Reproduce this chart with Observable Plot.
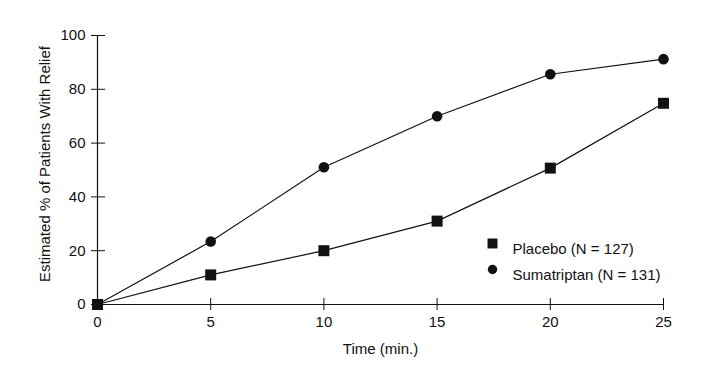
<!DOCTYPE html>
<html>
<head>
<meta charset="utf-8">
<script src="https://cdn.jsdelivr.net/npm/d3@7"></script>
<script src="https://cdn.jsdelivr.net/npm/@observablehq/plot@0.6"></script>
<style>
  html, body { margin: 0; padding: 0; background: #fff; }
</style>
</head>
<body>
<div id="chart"></div>
<script>
// ---- data ----
const times = [0, 5, 10, 15, 20, 25];
const placebo = [0, 11, 20, 31, 50.7, 74.8];
const sumatriptan = [0, 23.4, 51, 70, 85.6, 91.2];
const seriesNames = ["Placebo (N = 127)", "Sumatriptan (N = 131)"];
const xTicks = [0, 5, 10, 15, 20, 25];
const yTicks = [0, 20, 40, 60, 80, 100];
const xLabel = "Time (min.)";
const yLabel = "Estimated % of Patients With Relief";

const placeboData = times.map((t, i) => ({time: t, value: placebo[i]}));
const sumaData = times.map((t, i) => ({time: t, value: sumatriptan[i]}));

const ink = "#111";
const fs = 15;

const chart = Plot.plot({
  width: 727,
  height: 375,
  marginLeft: 97,
  marginRight: 64,
  marginTop: 35,
  marginBottom: 71,
  style: {fontFamily: "'Liberation Sans', Arial, sans-serif", fontSize: "15px", color: ink, background: "#fff"},
  x: {domain: [0, 25], ticks: xTicks, label: null},
  y: {domain: [0, 100], ticks: yTicks, label: null},
  marks: [
    Plot.ruleY([0], {stroke: ink, strokeWidth: 1.2}),
    Plot.ruleX([0], {stroke: ink, strokeWidth: 1.2}),
    Plot.axisX({ticks: xTicks, tickSize: 12, dy: -6, tickPadding: 6, label: null, stroke: ink, fill: ink, fontSize: fs}),
    Plot.axisY({ticks: yTicks, tickSize: 14, dx: 8, tickPadding: 6, label: null, stroke: ink, fill: ink, fontSize: fs}),
    Plot.text([xLabel], {frameAnchor: "bottom", dy: 49, fill: ink, fontSize: fs, textAnchor: "middle"}),
    Plot.text([yLabel], {frameAnchor: "left", rotate: -90, dx: -52, dy: -6, fill: ink, fontSize: fs, textAnchor: "middle"}),
    Plot.line(sumaData, {x: "time", y: "value", stroke: ink, strokeWidth: 1.2}),
    Plot.line(placeboData, {x: "time", y: "value", stroke: ink, strokeWidth: 1.2}),
    Plot.dot(sumaData, {x: "time", y: "value", symbol: "circle", r: 5.3, fill: ink, stroke: "none"}),
    Plot.dot(placeboData, {x: "time", y: "value", symbol: "square", r: 6.2, fill: ink, stroke: "none"}),
    // legend inside the plot area
    Plot.dot([seriesNames[0]], {frameAnchor: "top-left", dx: 395, dy: 208, symbol: "square", r: 5.6, fill: ink, stroke: "none"}),
    Plot.dot([seriesNames[1]], {frameAnchor: "top-left", dx: 395, dy: 234, symbol: "circle", r: 4.7, fill: ink, stroke: "none"}),
    Plot.text([seriesNames[0]], {frameAnchor: "top-left", dx: 415, dy: 208, textAnchor: "start", fill: ink, fontSize: fs}),
    Plot.text([seriesNames[1]], {frameAnchor: "top-left", dx: 415, dy: 234, textAnchor: "start", fill: ink, fontSize: fs})
  ]
});
document.getElementById("chart").appendChild(chart);
</script>
</body>
</html>
